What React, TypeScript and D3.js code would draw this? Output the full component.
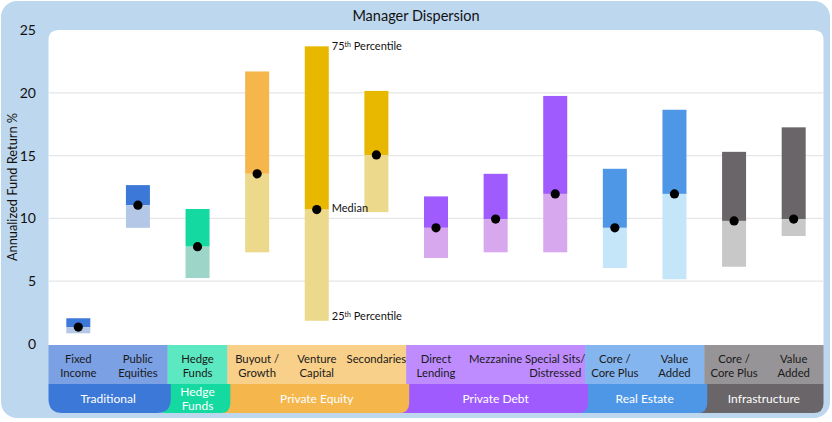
import React from 'react';
import * as d3 from 'd3';

// Manager dispersion: 25th / median / 75th percentile by strategy
const categories: string[][] = [
  ['Fixed', 'Income'],
  ['Public', 'Equities'],
  ['Hedge', 'Funds'],
  ['Buyout /', 'Growth'],
  ['Venture', 'Capital'],
  ['Secondaries'],
  ['Direct', 'Lending'],
  ['Mezzanine'],
  ['Special Sits/', 'Distressed'],
  ['Core /', 'Core Plus'],
  ['Value', 'Added'],
  ['Core /', 'Core Plus'],
  ['Value', 'Added'],
];
const p75 = [2.05, 12.65, 10.75, 21.7, 23.7, 20.15, 11.75, 13.55, 19.75, 13.95, 18.65, 15.3, 17.25];
const median = [1.35, 11.05, 7.75, 13.55, 10.7, 15.05, 9.25, 9.95, 11.95, 9.25, 11.95, 9.8, 9.95];
const p25 = [0.85, 9.25, 5.25, 7.3, 1.85, 10.5, 6.85, 7.3, 7.3, 6.05, 5.15, 6.15, 8.6];
const darkColors = ['#3C78D8', '#3C78D8', '#14D9A0', '#F5B64C', '#E8B800', '#E8B800', '#9F5BFE', '#9F5BFE', '#9F5BFE', '#4E96E6', '#4E96E6', '#6A6569', '#6A6569'];
const lightColors = ['#B4C7E7', '#B4C7E7', '#9DD5C9', '#EDD98B', '#EDD98B', '#EDD98B', '#D8A8EE', '#D8A8EE', '#D8A8EE', '#C5E5F9', '#C5E5F9', '#C8C8C8', '#C8C8C8'];

const groupNames: string[][] = [['Traditional'], ['Hedge', 'Funds'], ['Private Equity'], ['Private Debt'], ['Real Estate'], ['Infrastructure']];
const groupStart = [0, 2, 3, 6, 9, 11];
const groupEnd = [2, 3, 6, 9, 11, 13];
const groupDark = ['#3C78D8', '#14D9A0', '#F5B64C', '#9F5BFE', '#4E96E6', '#6A6569'];
const groupLight = ['#7BA0E4', '#5CE8C0', '#F9D08A', '#BE8CFF', '#85B5EE', '#979497'];

const yTicks = [0, 5, 10, 15, 20, 25];

const W = 832;
const H = 422;
const FONT = 'Lato, "Open Sans", sans-serif';

export default function App() {
  const plotLeft = 48.5;
  const plotRight = 823.5;
  const plotTop = 30;
  const zeroY = 344;
  const stripMid = 384;
  const stripBottom = 413;

  const x = d3.scaleBand<number>().domain(d3.range(categories.length)).range([plotLeft, plotRight]).padding(0);
  const y = d3.scaleLinear().domain([0, 25]).range([zeroY, plotTop]);
  const barW = 24;
  const bw = x.bandwidth();

  const edge = (i: number) => (i >= categories.length ? plotRight : (x(i) as number));

  // white plot area with rounded top corners
  const r = 10;
  const plotPath = `M${plotLeft},${zeroY + 1} V${plotTop + r} Q${plotLeft},${plotTop} ${plotLeft + r},${plotTop} H${plotRight - r} Q${plotRight},${plotTop} ${plotRight},${plotTop + r} V${zeroY + 1} Z`;

  // lower group strip: bottom corners rounded, extends left under the previous group
  const groupPath = (gi: number) => {
    const rr = gi === 0 ? 14 : 10;
    const x0 = edge(groupStart[gi]) - (gi > 0 ? 12 : 0);
    const x1 = edge(groupEnd[gi]) + (gi < groupNames.length - 1 ? 3 : 0);
    const t = stripMid;
    const b = stripBottom;
    return `M${x0},${t} H${x1} V${b - rr} Q${x1},${b} ${x1 - rr},${b} H${x0 + rr} Q${x0},${b} ${x0},${b - rr} Z`;
  };

  const annX = (x(4) as number) + bw / 2 + barW / 2 + 3;

  return (
    <svg width={W} height={H} style={{ position: 'absolute', left: 0, top: 0, fontFamily: FONT }}>
      <rect x={1} y={1} width={829} height={417} rx={16} fill="#BDD7EE" />
      <text x={W / 2} y={21} textAnchor="middle" fontSize={14.5} fill="#111">Manager Dispersion</text>
      <path d={plotPath} fill="#fff" />

      {yTicks.filter((t) => t > 0 && t < 25).map((t) => (
        <line key={t} x1={plotLeft} x2={plotRight} y1={y(t)} y2={y(t)} stroke="#E6E6E6" strokeWidth={1.3} />
      ))}
      {yTicks.map((t) => (
        <text key={t} x={36} y={y(t)} dy="0.35em" textAnchor="end" fontSize={14} fill="#111">{t}</text>
      ))}
      <text transform={`translate(17,${(zeroY + plotTop) / 2}) rotate(-90)`} textAnchor="middle" fontSize={12.8} fill="#111">
        Annualized Fund Return %
      </text>

      {categories.map((_, i) => {
        const cx = (x(i) as number) + bw / 2;
        return (
          <g key={i}>
            <rect x={cx - barW / 2} y={y(p75[i])} width={barW} height={y(median[i]) - y(p75[i])} fill={darkColors[i]} />
            <rect x={cx - barW / 2} y={y(median[i])} width={barW} height={y(p25[i]) - y(median[i])} fill={lightColors[i]} />
            <circle cx={cx} cy={y(median[i])} r={4.6} fill="#000" />
          </g>
        );
      })}

      <text x={annX} y={y(p75[4]) + 4} fontSize={11} fill="#111">
        75<tspan fontSize={7} dy={-3}>th</tspan><tspan dy={3}> Percentile</tspan>
      </text>
      <text x={annX} y={y(median[4]) + 2} fontSize={11} fill="#111">Median</text>
      <text x={annX} y={y(p25[4]) - 1} fontSize={11} fill="#111">
        25<tspan fontSize={7} dy={-3}>th</tspan><tspan dy={3}> Percentile</tspan>
      </text>

      {/* upper strip with sub-category names */}
      {groupNames.map((_, gi) => (
        <rect key={gi} x={edge(groupStart[gi])} y={zeroY + 1} width={edge(groupEnd[gi]) - edge(groupStart[gi])} height={stripMid - zeroY - 1} fill={groupLight[gi]} />
      ))}
      {categories.map((lines, i) => {
        const cx = (x(i) as number) + bw / 2;
        return (
          <text key={i} x={cx} y={363} textAnchor="middle" fontSize={11.3} fill="#1a1a1a">
            {lines.map((l, k) => (
              <tspan key={k} x={cx} dy={k === 0 ? 0 : 14}>{l}</tspan>
            ))}
          </text>
        );
      })}

      {/* lower strip with group names */}
      {groupNames.map((_, gi) => groupNames.length - 1 - gi).map((gi) => (
        <path key={gi} d={groupPath(gi)} fill={groupDark[gi]} />
      ))}
      {groupNames.map((lines, gi) => {
        const cx = (edge(groupStart[gi]) + edge(groupEnd[gi])) / 2;
        const y0 = lines.length > 1 ? 396 : 403;
        return (
          <text key={gi} x={cx} y={y0} textAnchor="middle" fontSize={12} fill="#fff">
            {lines.map((l, k) => (
              <tspan key={k} x={cx} dy={k === 0 ? 0 : 14}>{l}</tspan>
            ))}
          </text>
        );
      })}
    </svg>
  );
}
